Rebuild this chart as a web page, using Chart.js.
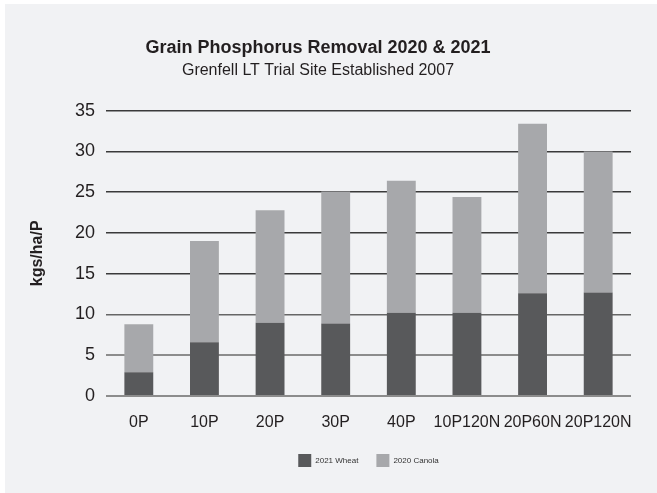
<!DOCTYPE html>
<html>
<head>
<meta charset="utf-8">
<script src="https://cdn.jsdelivr.net/npm/chart.js@4/dist/chart.umd.min.js"></script>
<style>
    body { margin: 0; background: #ffffff; }
    #wrap { position: absolute; left: 5px; top: 4px; width: 652px; height: 489px; background: #f1f2f4; }
</style>
</head>
<body>
<div id="wrap"><canvas id="myChart"></canvas></div>
<script>
// Treatments along the x axis
const categories = ['0P', '10P', '20P', '30P', '40P', '10P120N', '20P60N', '20P120N'];

// Grain P removal, kgs/ha/P (stacked: wheat at the bottom, canola on top)
const wheat2021 = [2.9, 6.6, 9.0, 8.9, 10.2, 10.2, 12.6, 12.7];
const canola2020 = [5.9, 12.4, 13.8, 16.2, 16.2, 14.2, 20.8, 17.3];

// Y axis ticks
const yMin = 0;
const yMax = 35;
const yStep = 5;

const font = 'Liberation Sans, Arial, sans-serif';

const ctx = document.getElementById('myChart').getContext('2d');
new Chart(ctx, {
    type: 'bar',
    data: {
        labels: categories,
        datasets: [{
            label: '2021 Wheat',
            data: wheat2021,
            backgroundColor: '#58595b',
            categoryPercentage: 0.8,
            barPercentage: 0.55
        }, {
            label: '2020 Canola',
            data: canola2020,
            backgroundColor: '#a7a8ab',
            categoryPercentage: 0.8,
            barPercentage: 0.55
        }]
    },
    options: {
        responsive: true,
        maintainAspectRatio: false,
        animation: false,
        layout: { padding: { left: 0, right: 26, top: 0, bottom: 16 } },
        plugins: {
            title: {
                display: true,
                text: 'Grain Phosphorus Removal 2020 & 2021',
                color: '#231f20',
                font: { family: font, size: 18, weight: 'bold' },
                padding: { top: 33.5, bottom: 2 }
            },
            subtitle: {
                display: true,
                text: 'Grenfell LT Trial Site Established 2007',
                color: '#231f20',
                font: { family: font, size: 16 },
                padding: { top: 0, bottom: 30.4 }
            },
            legend: {
                position: 'bottom',
                fullSize: false,
                labels: {
                    boxWidth: 13,
                    boxHeight: 13,
                    padding: 18,
                    color: '#333',
                    font: { family: font, size: 8 }
                }
            },
            tooltip: { enabled: false }
        },
        scales: {
            x: {
                stacked: true,
                grid: { display: false, drawTicks: false },
                border: { display: false },
                ticks: {
                    color: '#231f20',
                    padding: 17,
                    maxRotation: 0,
                    autoSkip: false,
                    font: { family: font, size: 16 }
                },
                afterFit: function(scale) { scale.height = 40; }
            },
            y: {
                stacked: true,
                min: yMin,
                max: yMax,
                z: 1,
                border: { display: false },
                grid: {
                    drawTicks: false,
                    color: function(c) {
                        if (c.tick.value <= 5) return '#8c8c8c';
                        if (c.tick.value === 10) return '#666666';
                        return '#3a3a3a';
                    },
                    lineWidth: function(c) {
                        return c.tick.value <= 5 ? 2 : 1.5;
                    }
                },
                ticks: {
                    stepSize: yStep,
                    color: '#231f20',
                    padding: 11,
                    font: { family: font, size: 18 }
                },
                title: {
                    display: true,
                    text: 'kgs/ha/P',
                    color: '#231f20',
                    font: { family: font, size: 16, weight: 'bold' },
                    padding: { top: 23.4, bottom: 4 }
                },
                afterFit: function(scale) { scale.width = 101; }
            }
        }
    }
});
</script>
</body>
</html>
